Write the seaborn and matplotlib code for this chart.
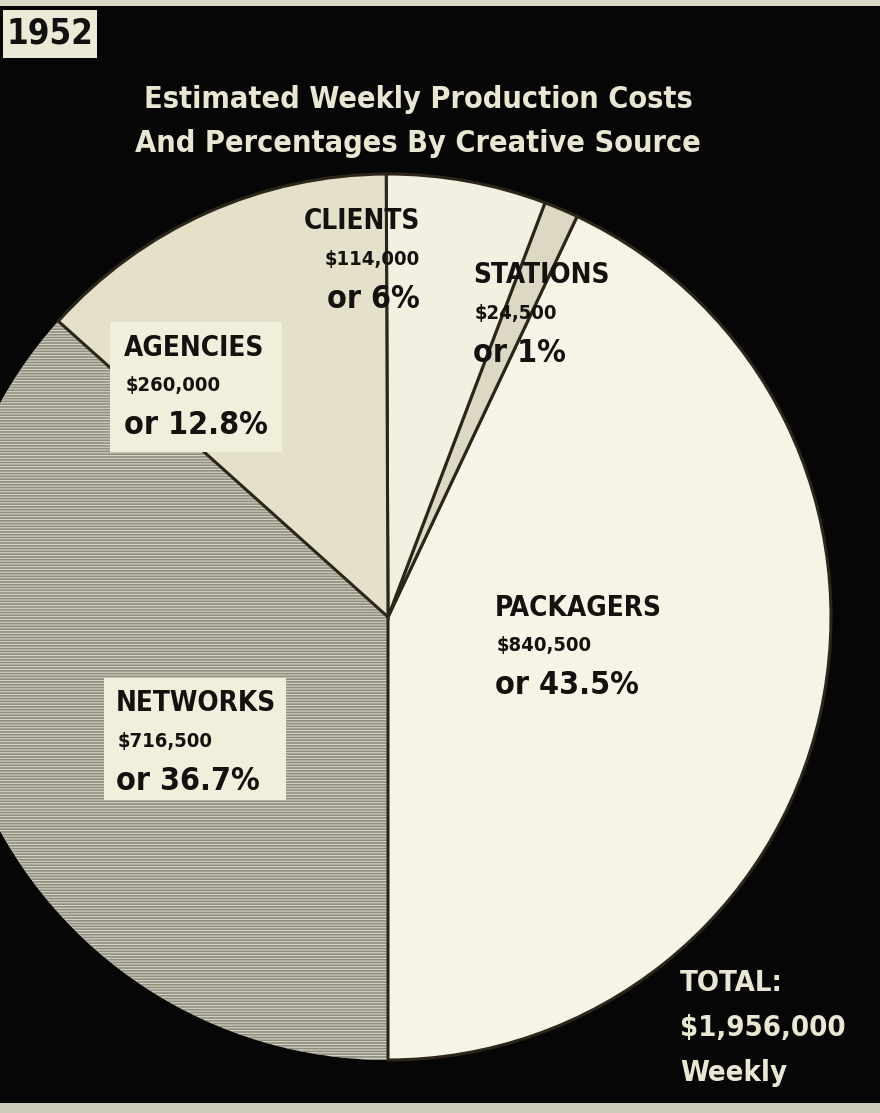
import matplotlib
matplotlib.use("Agg")
import matplotlib.pyplot as plt
import seaborn as sns
from matplotlib.patches import Rectangle

# ---- data ----
sources = ["PACKAGERS", "STATIONS", "CLIENTS", "AGENCIES", "NETWORKS"]
costs = [840500, 24500, 114000, 260000, 716500]
cost_labels = ["$840,500", "$24,500", "$114,000", "$260,000", "$716,500"]
pct_labels = ["or 43.5%", "or 1%", "or 6%", "or 12.8%", "or 36.7%"]
year_label = "1952"
title_lines = ["Estimated Weekly Production Costs", "And Percentages By Creative Source"]
total_lines = ["TOTAL:", "$1,956,000", "Weekly"]

sns.set_theme(style="dark")
plt.rcParams['font.family'] = ['DejaVu Sans']
plt.rcParams['font.stretch'] = 'condensed'
plt.rcParams['hatch.linewidth'] = 1.2

W, H = 880, 1113
fig = plt.figure(figsize=(W / 100, H / 100), dpi=100)
fig.patch.set_facecolor("#060606")
ax = fig.add_axes([0, 0, 1, 1])
ax.set_facecolor("#060606")
ax.set_xlim(0, W)
ax.set_ylim(0, H)
ax.set_aspect("equal")
ax.axis("off")

def Y(py):
    return H - py

slice_colors = ["#f6f4e6", "#dcd8c4", "#f2f0e0", "#e4e0ca", "#d6d4c4"]
wedges, _ = ax.pie(costs, colors=slice_colors, startangle=-90, counterclock=True,
                   center=(388, Y(617)), radius=443,
                   wedgeprops=dict(edgecolor="#2c2618", linewidth=2.2))
ax.set_xlim(0, W)
ax.set_ylim(0, H)
net = wedges[4]
net.set_edgecolor("#8f8d7e")
net.set_linewidth(0.0)
net.set_hatch("------")
net.set_zorder(0.9)

# paper strips at top/bottom
ax.add_patch(Rectangle((0, Y(6)), W, 6, facecolor="#d8d6c6", edgecolor="none", zorder=5))
ax.add_patch(Rectangle((0, 0), W, 10, facecolor="#cfccbc", edgecolor="none", zorder=5))

TXT = dict(fontweight="bold", fontstretch="condensed")

# year box
ax.add_patch(Rectangle((3, Y(58)), 94, 48, facecolor="#ecead6", edgecolor="none", zorder=5))
ax.text(50, Y(34), year_label, ha="center", va="center", fontsize=25,
        color="#111111", zorder=6, **TXT)

cream = "#e9e7d2"
ax.text(418, Y(100), title_lines[0], ha="center", va="center", fontsize=22,
        color=cream, **TXT)
ax.text(418, Y(143), title_lines[1], ha="center", va="center", fontsize=22,
        color=cream, **TXT)

# label boxes
ax.add_patch(Rectangle((110, Y(452)), 172, 130, facecolor="#f1efdc", edgecolor="none", zorder=3))
ax.add_patch(Rectangle((104, Y(800)), 182, 122, facecolor="#f1efdc", edgecolor="none", zorder=3))

ink = "#141210"
# (x, y of name, align)
label_pos = {
    "PACKAGERS": (495, 608, "left"),
    "STATIONS": (473, 275, "left"),
    "CLIENTS": (420, 221, "right"),
    "AGENCIES": (124, 348, "left"),
    "NETWORKS": (116, 703, "left"),
}
for i, name in enumerate(sources):
    x, y, ha = label_pos[name]
    ax.text(x, Y(y), name, ha=ha, va="center", fontsize=20,
            color=ink, zorder=4, **TXT)
    ax.text(x + (2 if ha == "left" else 0), Y(y + 38), cost_labels[i], ha=ha, va="center",
            fontsize=14.5, color=ink, zorder=4, **TXT)
    ax.text(x, Y(y + 78), pct_labels[i], ha=ha, va="center", fontsize=23,
            color=ink, zorder=4, **TXT)

for k, line in enumerate(total_lines):
    ax.text(680, Y(983 + 45 * k), line, ha="left", va="center", fontsize=21,
            color=cream, zorder=6, **TXT)

fig.savefig("out.png", dpi=100, facecolor=fig.get_facecolor())
